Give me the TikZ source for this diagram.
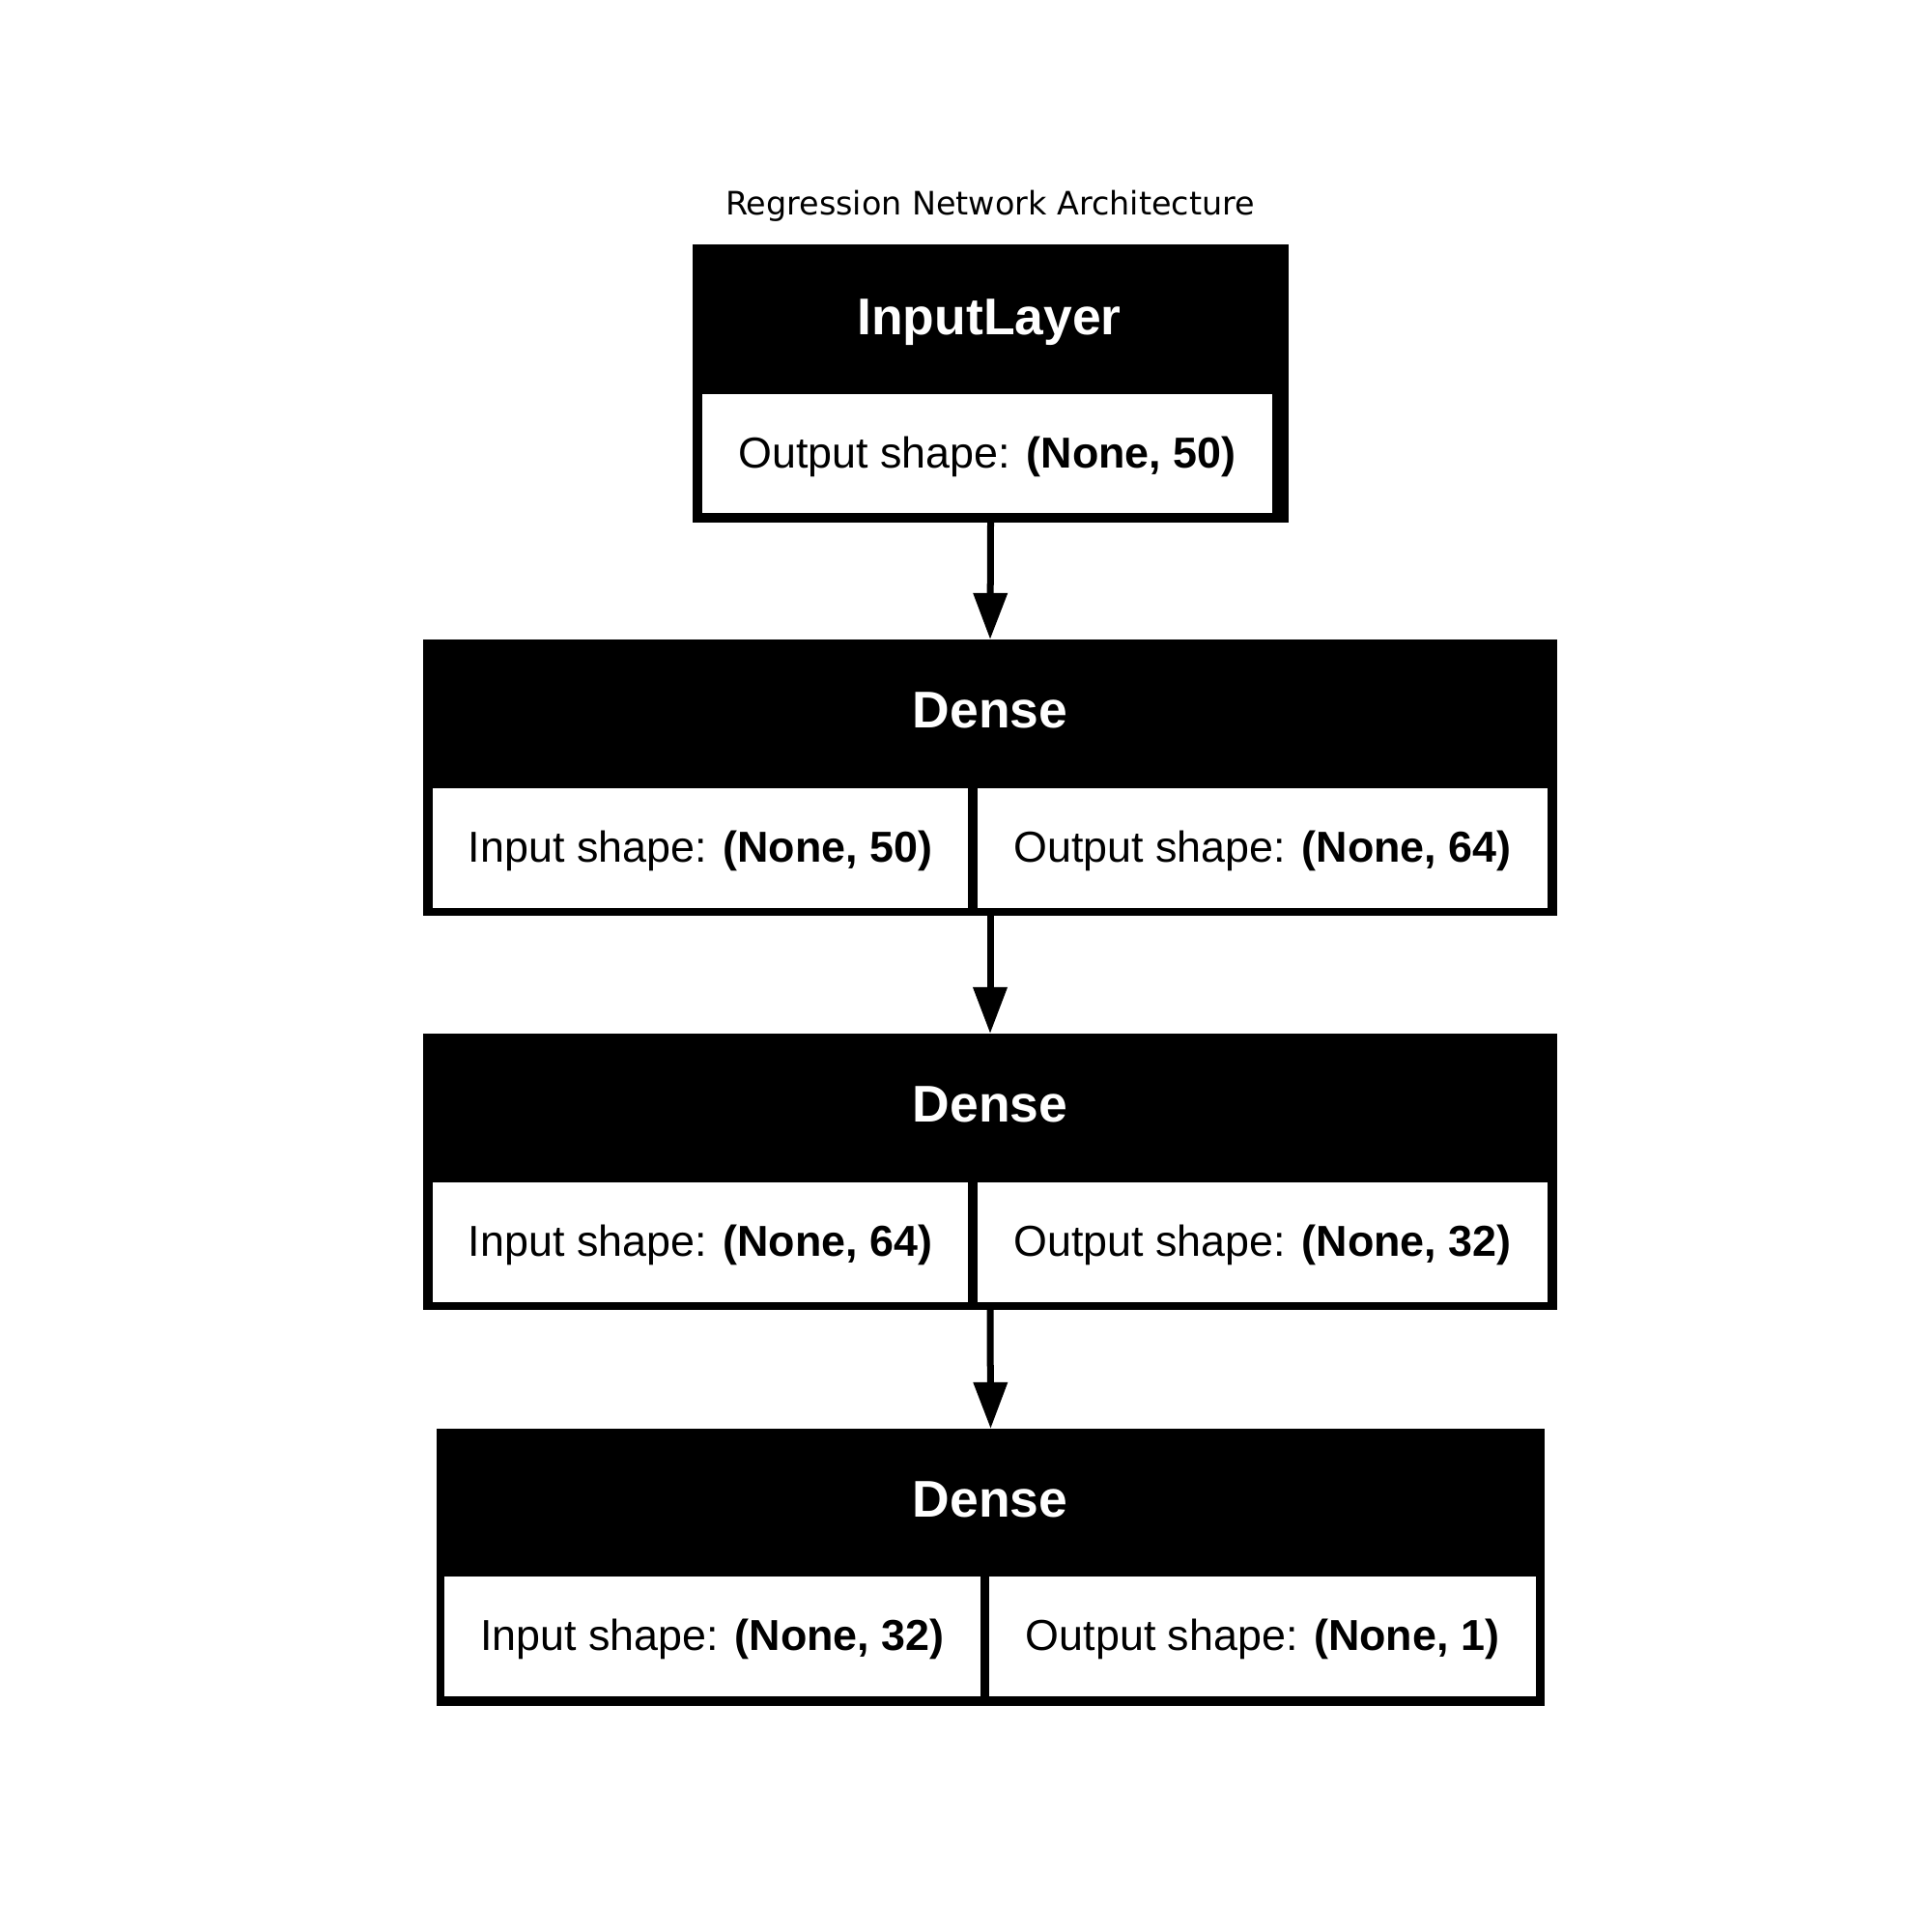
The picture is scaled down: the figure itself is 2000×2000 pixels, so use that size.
\documentclass[tikz,border=0pt]{standalone}
\usepackage{fontspec}
\setmainfont{Liberation Sans}
\newfontfamily\titlefont{DejaVu Sans}
\usetikzlibrary{arrows.meta}
\begin{document}
\begin{tikzpicture}[x=0.01cm,y=-0.01cm,
  layerbox/.style={rectangle,fill=black,draw=none,inner sep=0pt,outer sep=0pt},
  cellbox/.style={rectangle,fill=white,draw=none,inner sep=0pt,outer sep=0pt},
  celltxt/.style={inner sep=0pt,font=\fontsize{12.75pt}{15pt}\selectfont},
  headtxt/.style={text=white,anchor=base,inner sep=0pt,
    font=\fontsize{15.2pt}{18pt}\selectfont\bfseries},
  titletxt/.style={inner sep=0pt,font=\titlefont\fontsize{9.5pt}{11pt}\selectfont},
  flow/.style={line width=0.07cm,-{Triangle[width=0.34cm,length=0.48cm]}}]
\useasboundingbox[fill=white] (0,0) rectangle (2000,2000);

\node[titletxt] (title) at (1025,213) {Regression Network Architecture};

% InputLayer
\node[layerbox,minimum width=6.17cm,minimum height=2.88cm] (il) at (1025.5,397) {};
\node[cellbox,minimum width=5.90cm,minimum height=1.23cm] (ilout) at (1022,469.5) {};
\node[celltxt] (iloutt) at ([yshift=-0.03cm]ilout.center) {Output shape: \textbf{(None, 50)}};
\node[headtxt] (ilhead) at (1024,346) {InputLayer};

% Dense 1
\node[layerbox,minimum width=11.74cm,minimum height=2.86cm] (d1) at (1025,805) {};
\node[cellbox,minimum width=5.54cm,minimum height=1.24cm] (d1in) at (725,878) {};
\node[cellbox,minimum width=5.90cm,minimum height=1.24cm] (d1out) at (1307,878) {};
\node[celltxt] (d1int) at ([yshift=-0.03cm]d1in.center) {Input shape: \textbf{(None, 50)}};
\node[celltxt] (d1outt) at ([yshift=-0.03cm]d1out.center) {Output shape: \textbf{(None, 64)}};
\node[headtxt] (d1head) at (1025,753) {Dense};

% Dense 2
\node[layerbox,minimum width=11.74cm,minimum height=2.86cm] (d2) at (1025,1213) {};
\node[cellbox,minimum width=5.54cm,minimum height=1.24cm] (d2in) at (725,1286) {};
\node[cellbox,minimum width=5.90cm,minimum height=1.24cm] (d2out) at (1307,1286) {};
\node[celltxt] (d2int) at ([yshift=-0.03cm]d2in.center) {Input shape: \textbf{(None, 64)}};
\node[celltxt] (d2outt) at ([yshift=-0.03cm]d2out.center) {Output shape: \textbf{(None, 32)}};
\node[headtxt] (d2head) at (1025,1161) {Dense};

% Dense 3
\node[layerbox,minimum width=11.47cm,minimum height=2.87cm] (d3) at (1025.5,1622.5) {};
\node[cellbox,minimum width=5.55cm,minimum height=1.24cm] (d3in) at (737.5,1694) {};
\node[cellbox,minimum width=5.66cm,minimum height=1.24cm] (d3out) at (1307,1694) {};
\node[celltxt] (d3int) at ([yshift=-0.03cm]d3in.center) {Input shape: \textbf{(None, 32)}};
\node[celltxt] (d3outt) at ([yshift=-0.03cm]d3out.center) {Output shape: \textbf{(None, 1)}};
\node[headtxt] (d3head) at (1025,1570) {Dense};

% connectors
\draw[flow] (il.south) -- (d1.north);
\draw[flow] (d1.south) -- (d2.north);
\draw[flow] (d2.south) -- (d3.north);
\end{tikzpicture}
\end{document}
